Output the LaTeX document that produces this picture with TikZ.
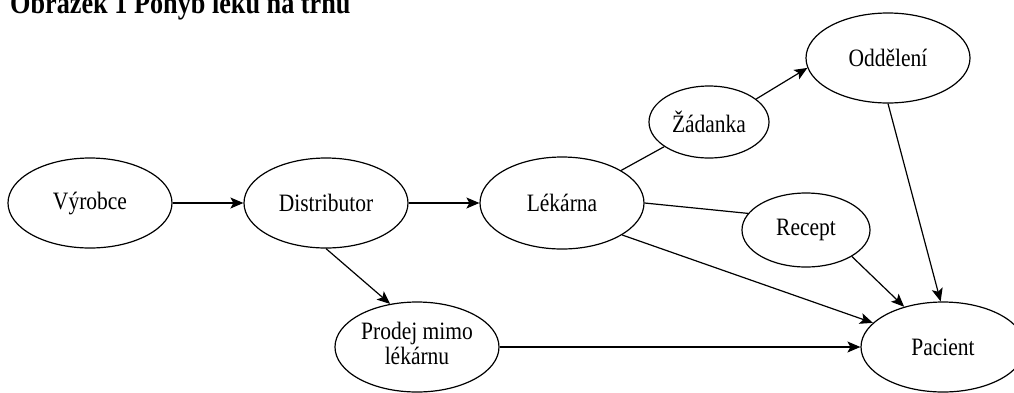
\documentclass[tikz,border=0pt]{standalone}
\usepackage{fontspec}
\setmainfont{Liberation Serif}
\usepackage{graphicx}
\usetikzlibrary{shapes.geometric,arrows.meta}
\newcommand{\sq}[1]{\scalebox{0.86}[1]{#1}}
\begin{document}
\begin{tikzpicture}[x=1pt,y=-1pt,
  bub/.style={ellipse,draw,line width=1.2pt,inner sep=0pt,minimum width=164pt,minimum height=90pt,font=\fontsize{25}{26}\selectfont,align=center},
  conn/.style={line width=1.2pt},
  arr/.style={conn,-{Stealth[length=13pt,width=11pt,inset=3pt]}}]
\clip (0,0) rectangle (1014,392);
\node[anchor=base west,inner sep=0pt,font=\bfseries\fontsize{30.5}{32}\selectfont] (title) at (10,13) {\sq{Obrázek 1 Pohyb léků na trhu}};
\node[bub] (vyr) at (90,203) {\sq{Výrobce}};
\node[bub] (dis) at (326,203) {\sq{Distributor}};
\node[bub,minimum height=92pt] (lek) at (562,203) {\sq{Lékárna}};
\node[bub,minimum width=120pt,minimum height=72pt] (zad) at (709,122) {\sq{Žádanka}};
\node[bub] (odd) at (888,58) {\sq{Oddělení}};
\node[bub,minimum width=128pt,minimum height=74pt] (rec) at (806,230) {\sq{Recept}};
\node[bub] (pro) at (417,347) {\sq{\begin{tabular}{@{}c@{}}Prodej mimo\\[-1pt]lékárnu\end{tabular}}};
\node[bub] (pac) at (943,347) {\sq{Pacient}};
\draw[arr] (vyr.east) -- (dis.west);
\draw[arr] (dis.east) -- (lek.west);
\draw[arr] (dis.south) -- (pro.122);
\draw[conn] (lek) -- (zad);
\draw[arr] (zad.26) -- (odd.187);
\draw[conn] (lek.east) -- (rec.164);
\draw[arr] (rec.330) -- (pac.134);
\draw[arr] (lek.332) -- (pac.161);
\draw[arr] (odd.south) -- (pac.93);
\draw[arr] (pro.east) -- (pac.west);
\end{tikzpicture}
\end{document}
